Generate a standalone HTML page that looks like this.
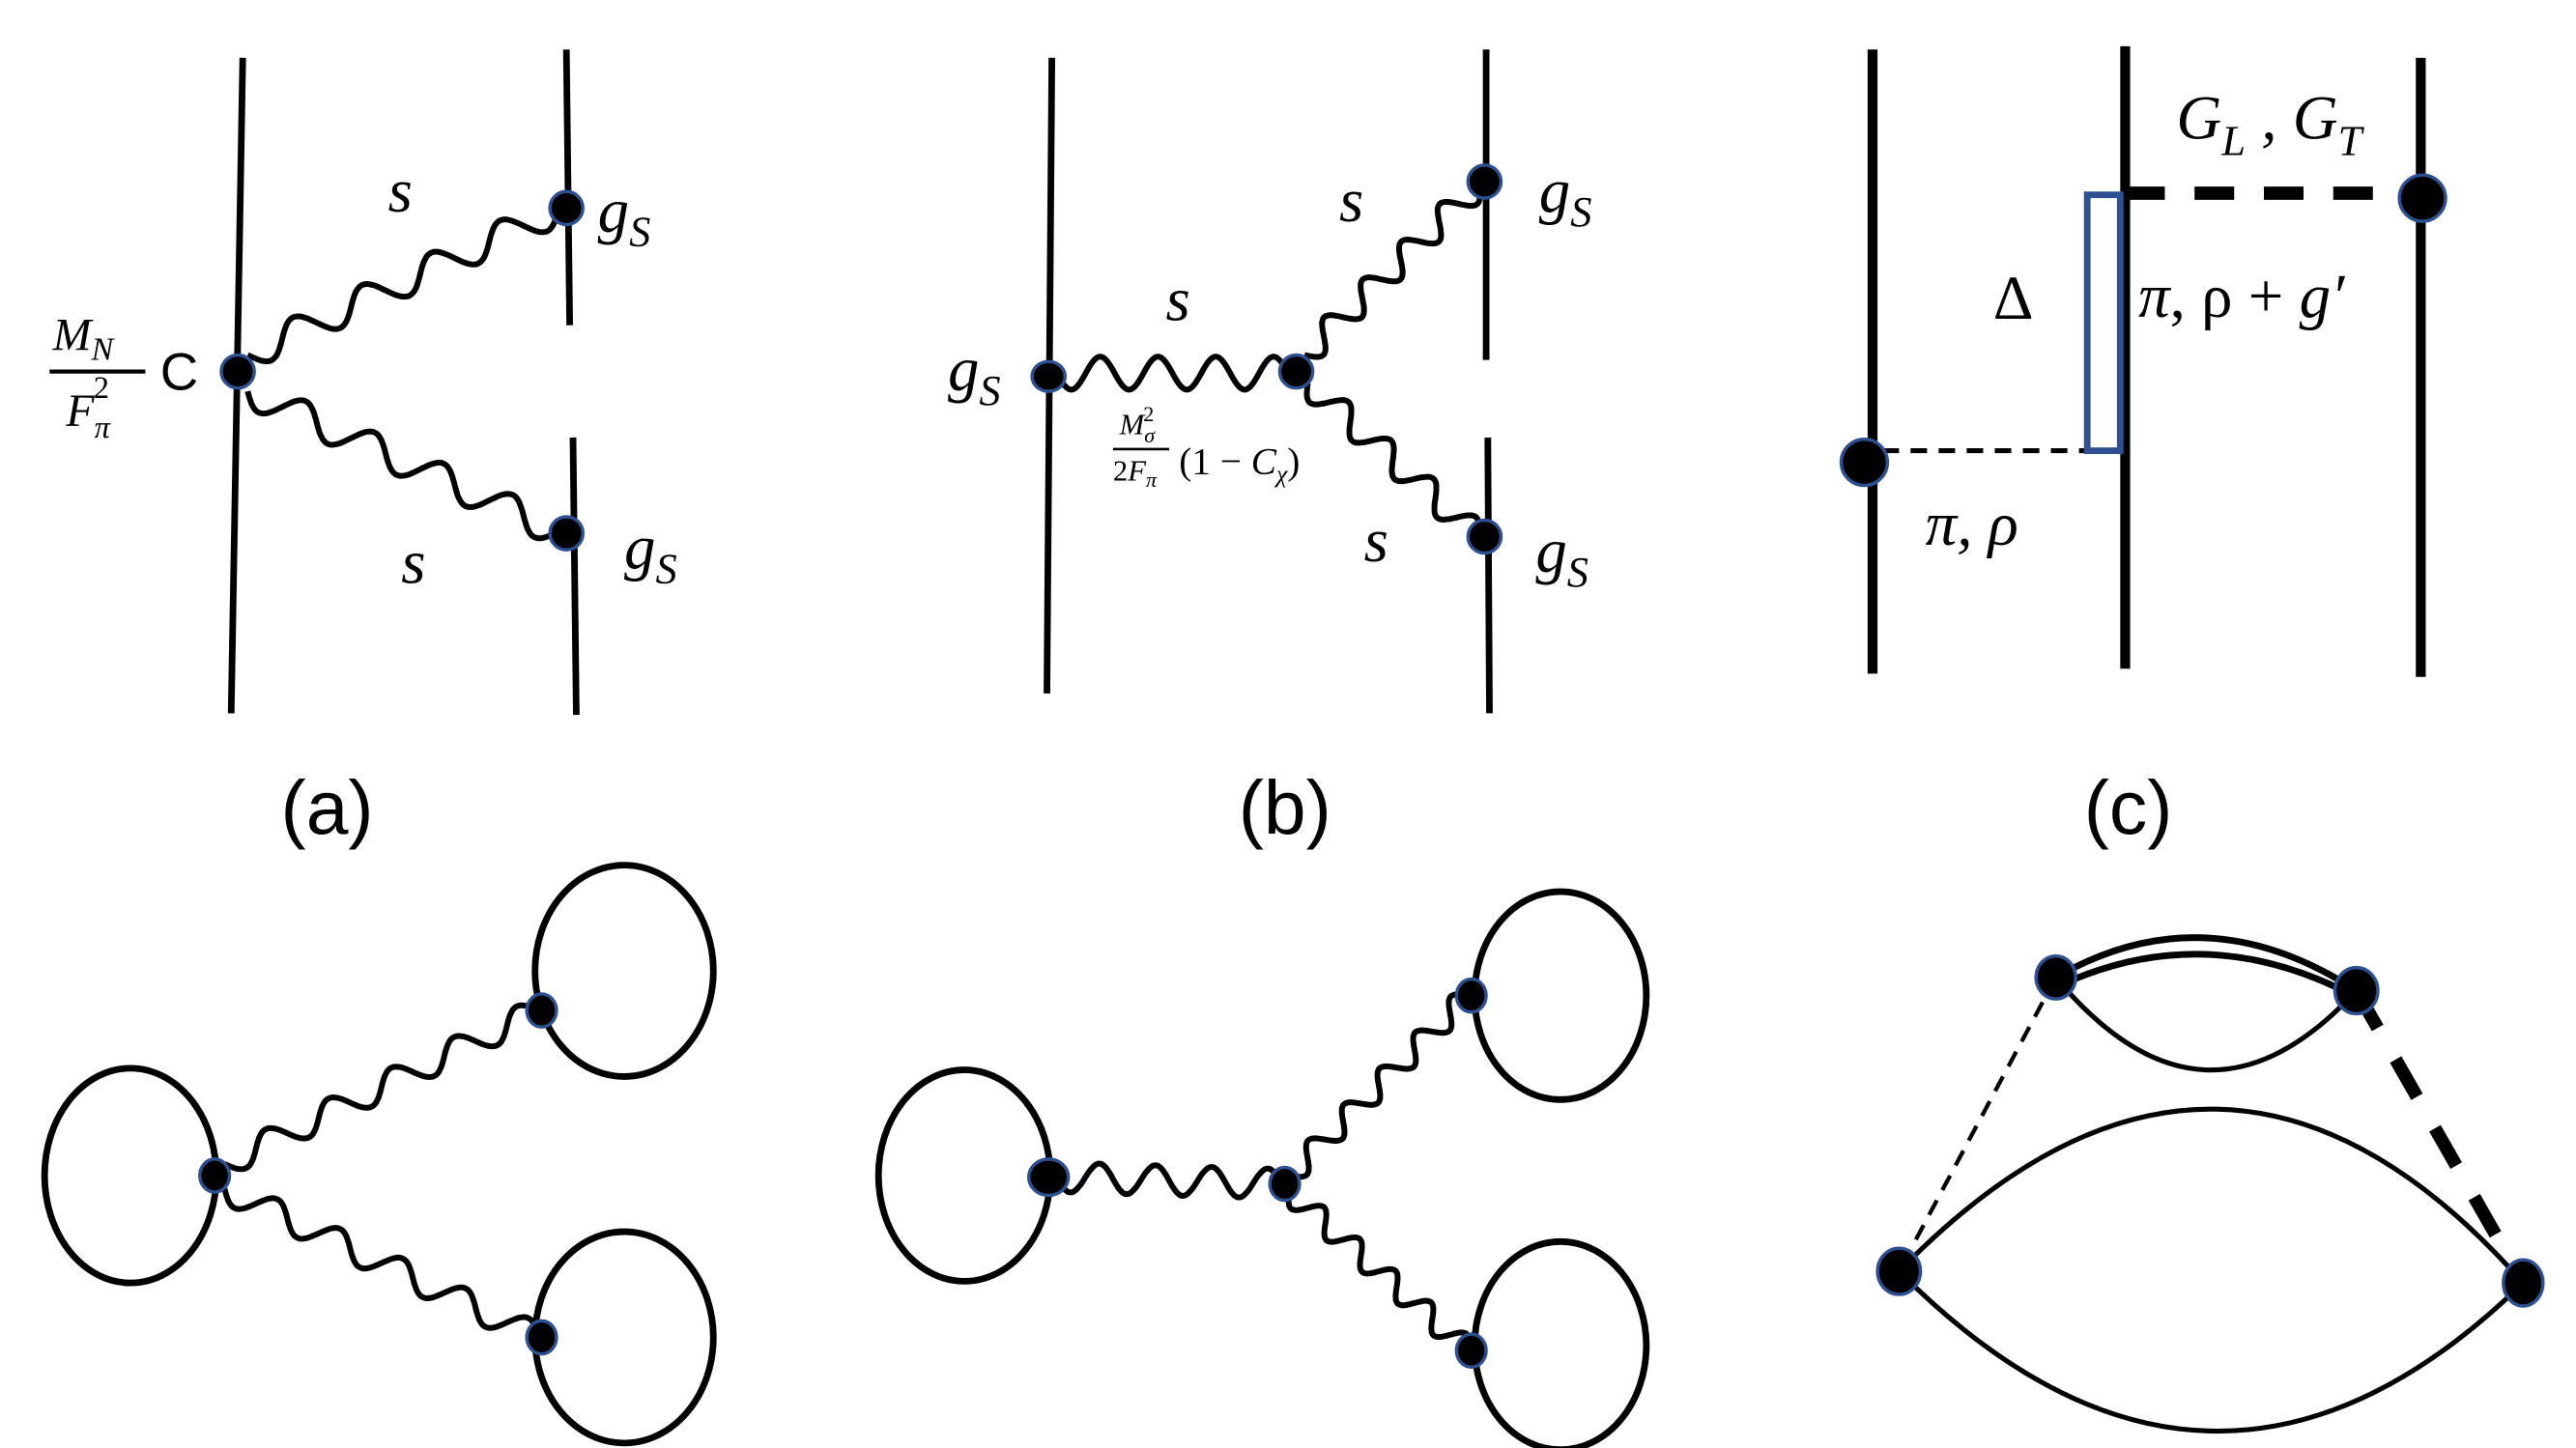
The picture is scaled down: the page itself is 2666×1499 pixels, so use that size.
<!DOCTYPE html>
<html><head><meta charset="utf-8"><style>
html,body{margin:0;padding:0;background:#fff;}
svg{display:block;}
.m{font-family:"Liberation Serif",serif;font-style:italic;fill:#000;}
.r{font-family:"Liberation Serif",serif;fill:#000;}
.s{font-family:"Liberation Sans",sans-serif;fill:#000;}
tspan.n{font-style:normal;}
</style></head><body>
<svg id="sv" width="2666" height="1499" viewBox="0 0 1560 877" preserveAspectRatio="none" xmlns="http://www.w3.org/2000/svg">
<g stroke="#000" fill="none" stroke-linecap="butt">
<line x1="147" y1="35" x2="140" y2="432" stroke-width="4"/>
<line x1="343" y1="30" x2="345" y2="197" stroke-width="4"/>
<line x1="347" y1="265" x2="349" y2="433" stroke-width="4"/>
<line x1="637" y1="35" x2="634" y2="420" stroke-width="4"/>
<line x1="900" y1="30" x2="900" y2="218" stroke-width="4"/>
<line x1="901" y1="265" x2="902" y2="432" stroke-width="4"/>
<line x1="1134" y1="30" x2="1134" y2="408" stroke-width="6"/>
<line x1="1287" y1="28" x2="1287" y2="405" stroke-width="6"/>
<line x1="1466" y1="35" x2="1466" y2="410" stroke-width="6"/>
<line x1="1287" y1="117" x2="1460" y2="117" stroke-width="8" stroke-dasharray="24,18"/>
<line x1="1140" y1="273" x2="1284" y2="273" stroke-width="3" stroke-dasharray="10,7"/>
<rect x="1264" y="118" width="20" height="155" stroke="#2f5090" stroke-width="4"/>
<ellipse cx="79" cy="712" rx="52" ry="65" stroke-width="4"/>
<ellipse cx="378" cy="588" rx="54" ry="64" stroke-width="4"/>
<ellipse cx="378" cy="810" rx="54" ry="64" stroke-width="4"/>
<ellipse cx="584" cy="712" rx="52" ry="64" stroke-width="4"/>
<ellipse cx="945" cy="603" rx="52" ry="63" stroke-width="4"/>
<ellipse cx="945" cy="815" rx="52" ry="63" stroke-width="4"/>
<path d="M1245 592 Q1335 540 1427 600" stroke-width="4"/>
<path d="M1245 598 Q1335 555 1427 604" stroke-width="4"/>
<path d="M1245 592 Q1335 700 1427 600" stroke-width="3"/>
<path d="M1150 770 Q1345 570 1528 777" stroke-width="3"/>
<path d="M1150 770 Q1340 960 1528 777" stroke-width="3"/>
<line x1="1245" y1="592" x2="1150" y2="770" stroke-width="2.5" stroke-dasharray="10,7"/>
<line x1="1427" y1="600" x2="1528" y2="777" stroke-width="8" stroke-dasharray="26,22"/>
<g id="waves" stroke-width="3.5"></g>
</g>
<g fill="#000" stroke="#2f5090" stroke-width="2">
<circle cx="144" cy="225" r="10"/>
<circle cx="343" cy="126" r="10"/>
<circle cx="343" cy="323" r="10"/>
<ellipse cx="635" cy="228" rx="10" ry="9"/>
<circle cx="785" cy="225" r="10"/>
<circle cx="899" cy="110" r="10"/>
<circle cx="899" cy="325" r="10"/>
<circle cx="1467" cy="120" r="14"/>
<circle cx="1129" cy="280" r="14"/>
<ellipse cx="130" cy="712" rx="9" ry="10"/>
<ellipse cx="328" cy="612" rx="9" ry="10"/>
<ellipse cx="328" cy="810" rx="9" ry="10"/>
<ellipse cx="635" cy="713" rx="12" ry="11"/>
<ellipse cx="778" cy="717" rx="9" ry="10"/>
<ellipse cx="891" cy="603" rx="9" ry="10"/>
<ellipse cx="891" cy="818" rx="9" ry="10"/>
<ellipse cx="1245" cy="592" rx="12" ry="13"/>
<ellipse cx="1427" cy="600" rx="13" ry="14"/>
<ellipse cx="1150" cy="770" rx="13" ry="14"/>
<ellipse cx="1528" cy="777" rx="12" ry="14"/>
</g>
<text class="m" x="235" y="128" font-size="38">s</text>
<text class="m" x="362" y="140" font-size="38">g<tspan font-size="26" dy="9">S</tspan></text>
<text class="m" x="243" y="353" font-size="38">s</text>
<text class="m" x="378" y="344" font-size="38">g<tspan font-size="26" dy="9">S</tspan></text>
<text class="m" x="32" y="212" font-size="28">M<tspan font-size="20" dy="6">N</tspan></text>
<line x1="30" y1="225" x2="88" y2="225" stroke="#000" stroke-width="2.5"/>
<text class="m" x="40" y="258" font-size="28">F<tspan font-size="19" dy="7">π</tspan><tspan class="n" font-size="19" dx="-10" dy="-24">2</tspan></text>
<text class="s" x="97" y="236" font-size="32">C</text>
<text class="s" x="170" y="505" font-size="46">(a)</text>
<text class="m" x="574" y="236" font-size="38">g<tspan font-size="26" dy="9">S</tspan></text>
<text class="m" x="706" y="194" font-size="38">s</text>
<text class="m" x="811" y="134" font-size="38">s</text>
<text class="m" x="826" y="340" font-size="38">s</text>
<text class="m" x="932" y="128" font-size="38">g<tspan font-size="26" dy="9">S</tspan></text>
<text class="m" x="930" y="346" font-size="38">g<tspan font-size="26" dy="9">S</tspan></text>
<text class="m" x="678" y="263" font-size="18">M<tspan font-size="13" dy="5">σ</tspan><tspan class="n" font-size="13" dx="-7" dy="-13">2</tspan></text>
<line x1="674" y1="272" x2="708" y2="272" stroke="#000" stroke-width="1.5"/>
<text class="r" x="674" y="291" font-size="18">2<tspan font-style="italic">F</tspan><tspan font-style="italic" font-size="13" dy="4">π</tspan></text>
<text class="r" x="714" y="287" font-size="23">(1 − <tspan font-style="italic">C</tspan><tspan font-style="italic" font-size="15" dy="5">χ</tspan><tspan dy="-5">)</tspan></text>
<text class="s" x="750" y="505" font-size="46">(b)</text>
<text class="m" x="1318" y="84" font-size="38">G<tspan font-size="26" dy="10">L</tspan><tspan dy="-10"> , G</tspan><tspan font-size="26" dy="10">T</tspan></text>
<text class="r" x="1207" y="193" font-size="38">Δ</text>
<text class="m" x="1295" y="192" font-size="38">π<tspan class="n">, ρ + </tspan>g′</text>
<text class="m" x="1166" y="330" font-size="38">π, ρ</text>
<text class="s" x="1262" y="505" font-size="46">(c)</text>
</svg>
<script>
function wave(x1,y1,x2,y2,n,a){
 var dx=x2-x1,dy=y2-y1,L=Math.hypot(dx,dy),px=-dy/L,py=dx/L,d="";
 var N=200;
 for(var i=0;i<=N;i++){var t=i/N,s=a*Math.sin(t*n*2*Math.PI);
  var x=x1+dx*t+px*s,y=y1+dy*t+py*s;d+=(i?"L":"M")+x.toFixed(1)+" "+y.toFixed(1);}
 var p=document.createElementNS("http://www.w3.org/2000/svg","path");
 p.setAttribute("d",d);document.getElementById("waves").appendChild(p);
}
wave(150,215,338,127,4.5,9);
wave(150,237,338,322,4.5,9);
wave(640,226,780,226,4,10);
wave(790,215,895,112,4.5,8);
wave(792,232,895,325,4,8);
wave(136,705,326,612,5,8);
wave(136,720,326,810,5,8);
wave(640,713,776,717,4,9);
wave(781,712,889,603,5,7);
wave(781,722,889,818,5,7);
</script>
</body></html>
